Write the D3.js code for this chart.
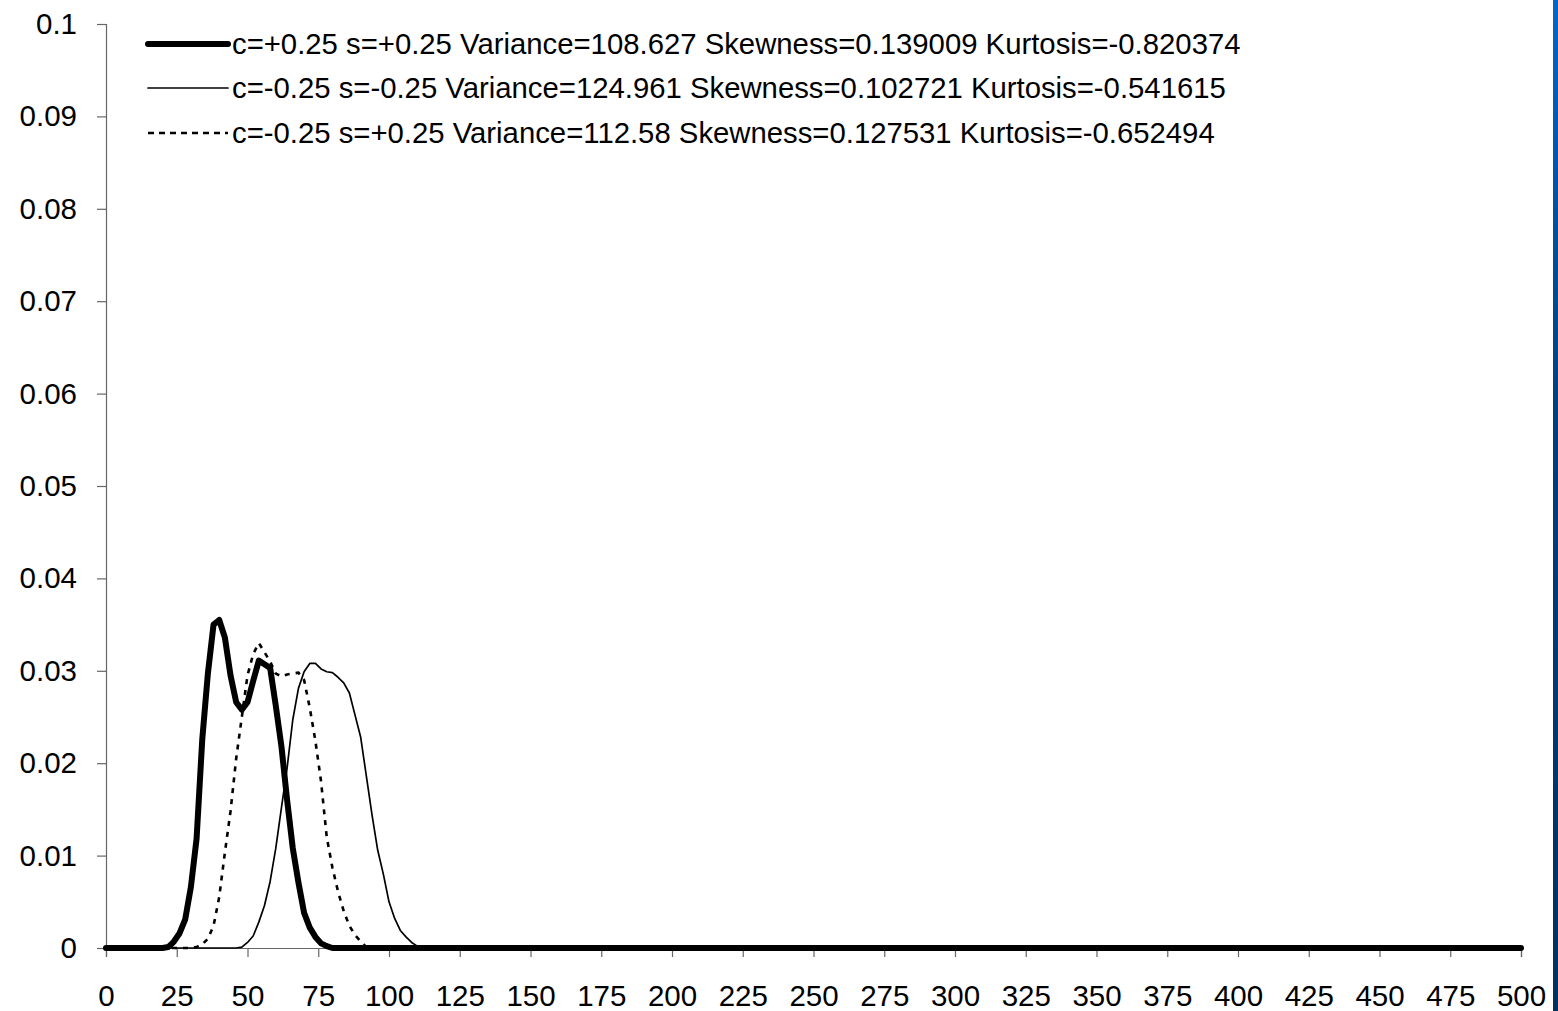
<!DOCTYPE html>
<html>
<head>
<meta charset="utf-8">
<script src="https://cdn.jsdelivr.net/npm/d3@7/dist/d3.min.js"></script>
<style>
  html, body { margin: 0; padding: 0; background: #fff; }
  svg { display: block; }
  text { font-family: "Liberation Sans", Arial, sans-serif; fill: #000; }
</style>
</head>
<body>
<svg id="chart" width="1558" height="1011"></svg>
<script>
// Sample positions shared by all three density curves
const xValues = [0, 20, 22, 24, 26, 28, 30, 32, 34, 36, 38, 40, 42, 44, 46, 48, 50,
  52, 54, 56, 58, 60, 62, 64, 66, 68, 70, 72, 74, 76, 78, 80, 82, 84, 86, 88, 90,
  92, 94, 96, 98, 100, 102, 104, 106, 108, 110, 112, 500];

// c=+0.25 s=+0.25
const densityPP = [0, 0, 0.0001, 0.0007, 0.0016, 0.0031, 0.0066, 0.0118, 0.0225, 0.0297,
  0.0350, 0.0355, 0.0336, 0.0295, 0.0266, 0.0258, 0.0266, 0.0289, 0.0311, 0.0307,
  0.0303, 0.0262, 0.0218, 0.0160, 0.0108, 0.0071, 0.0038, 0.0022, 0.0012, 0.0005,
  0.0002, 0, 0, 0, 0, 0, 0, 0, 0, 0, 0, 0, 0, 0, 0, 0, 0, 0, 0];

// c=-0.25 s=-0.25
const densityMM = [0, 0, 0, 0, 0, 0, 0, 0, 0, 0, 0, 0, 0, 0, 0, 0.0001, 0.0006, 0.0013,
  0.0028, 0.0046, 0.0072, 0.0108, 0.0152, 0.0195, 0.0247, 0.0281, 0.0299, 0.0308,
  0.0308, 0.0302, 0.0299, 0.0298, 0.0293, 0.0287, 0.0276, 0.0252, 0.0228, 0.0186,
  0.0144, 0.0106, 0.0080, 0.0050, 0.0032, 0.0019, 0.0012, 0.0006, 0.0002, 0, 0];

// c=-0.25 s=+0.25
const densityMP = [0, 0, 0, 0, 0, 0, 0, 0.0001, 0.0004, 0.0010, 0.0024, 0.0055, 0.0103,
  0.0148, 0.0205, 0.0250, 0.0295, 0.0318, 0.0330, 0.0320, 0.0310, 0.0297, 0.0294,
  0.0296, 0.0297, 0.0298, 0.0290, 0.0260, 0.0224, 0.0180, 0.0120, 0.0087, 0.0061,
  0.0040, 0.0024, 0.0014, 0.0007, 0.0001, 0, 0, 0, 0, 0, 0, 0, 0, 0, 0, 0];

const seriesLabels = [
  "c=+0.25 s=+0.25 Variance=108.627 Skewness=0.139009 Kurtosis=-0.820374",
  "c=-0.25 s=-0.25 Variance=124.961 Skewness=0.102721 Kurtosis=-0.541615",
  "c=-0.25 s=+0.25 Variance=112.58 Skewness=0.127531 Kurtosis=-0.652494"
];

const xTicks = d3.range(0, 501, 25);
const yTicks = [0, 0.01, 0.02, 0.03, 0.04, 0.05, 0.06, 0.07, 0.08, 0.09, 0.1];

const svg = d3.select("#chart");
const W = 1558, H = 1011;
const plot = { left: 106, right: 1521, top: 24, bottom: 948 };

// Edge stripe on the right side
const defs = svg.append("defs");
const grad = defs.append("linearGradient").attr("id", "edgeGrad")
  .attr("x1", 0).attr("y1", 0).attr("x2", 0).attr("y2", 1);
grad.append("stop").attr("offset", "0%").attr("stop-color", "#0066cc");
grad.append("stop").attr("offset", "40%").attr("stop-color", "#003f80");
grad.append("stop").attr("offset", "100%").attr("stop-color", "#00305f");
svg.append("rect").attr("x", 1553).attr("y", 0).attr("width", 5).attr("height", H)
  .attr("fill", "url(#edgeGrad)");

const x = d3.scaleLinear().domain([0, 500]).range([plot.left, plot.right]);
const y = d3.scaleLinear().domain([0, 0.1]).range([plot.bottom, plot.top]);

// Axes
const xAxis = d3.axisBottom(x).tickValues(xTicks).tickSize(9).tickPadding(28)
  .tickFormat(d3.format("d"));
const yAxis = d3.axisLeft(y).tickValues(yTicks).tickSize(9).tickPadding(20)
  .tickFormat(d => d === 0 ? "0" : d3.format(".2~f")(d));

const gx = svg.append("g").attr("transform", `translate(0,${plot.bottom})`).call(xAxis);
const gy = svg.append("g").attr("transform", `translate(${plot.left},0)`).call(yAxis);
[gx, gy].forEach(g => {
  g.select(".domain").attr("stroke", "#666").attr("stroke-width", 1.2);
  g.selectAll(".tick line").attr("stroke", "#666").attr("stroke-width", 1.2);
  g.selectAll(".tick text").attr("font-size", 29.5)
    .attr("font-family", "'Liberation Sans', Arial, sans-serif").attr("fill", "#000");
});
gx.selectAll(".tick text").attr("dy", "0.71em");

// Curves
const line = d3.line().x(d => x(d[0])).y(d => y(d[1]));
const styles = [
  { values: densityPP, width: 6, dash: null },
  { values: densityMM, width: 1.7, dash: null },
  { values: densityMP, width: 2.6, dash: "5,6" }
];

// Draw lighter series first so the thick one sits on top
[2, 1, 0].forEach(i => {
  const s = styles[i];
  const pts = xValues.map((xv, k) => [xv, s.values[k]]);
  svg.append("path").datum(pts)
    .attr("d", line)
    .attr("fill", "none")
    .attr("stroke", "#000")
    .attr("stroke-width", s.width)
    .attr("stroke-linejoin", "round")
    .attr("stroke-linecap", s.dash ? "butt" : "round")
    .attr("stroke-dasharray", s.dash);
});

// Legend
const legendY = [44, 88, 133];
const leg = svg.append("g");
styles.forEach((s, i) => {
  leg.append("line")
    .attr("x1", 148).attr("x2", 228)
    .attr("y1", legendY[i]).attr("y2", legendY[i])
    .attr("stroke", "#000").attr("stroke-width", s.width)
    .attr("stroke-linecap", s.dash ? "butt" : "round")
    .attr("stroke-dasharray", s.dash ? "6,5" : null);
  leg.append("text")
    .attr("x", 232).attr("y", legendY[i]).attr("dy", "0.35em")
    .attr("font-size", 29.3)
    .text(seriesLabels[i]);
});
</script>
</body>
</html>
